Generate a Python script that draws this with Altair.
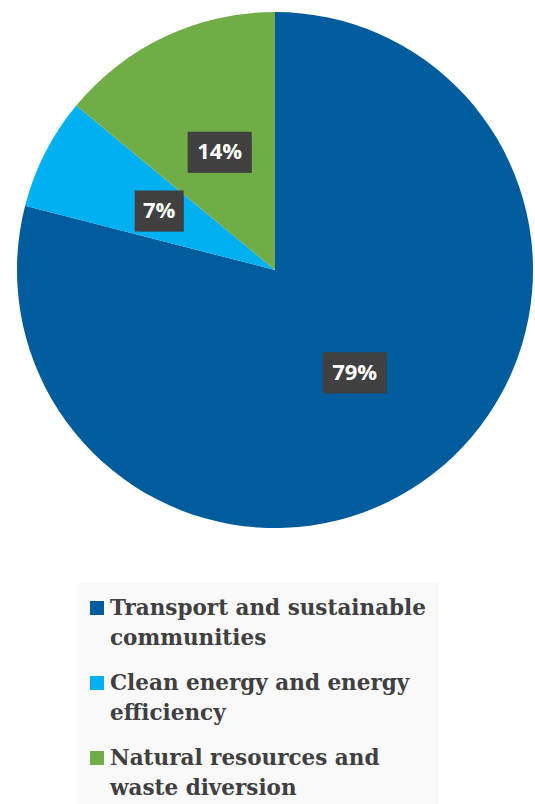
import altair as alt
import pandas as pd

categories = [
    "Transport and sustainable communities",
    "Clean energy and energy efficiency",
    "Natural resources and waste diversion",
]
legend_lines = [
    "Transport and sustainable\ncommunities",
    "Clean energy and energy\nefficiency",
    "Natural resources and\nwaste diversion",
]
shares = [79, 7, 14]
pct_labels = ["79%", "7%", "14%"]
colors = ["#005C9C", "#00B0F0", "#70AD47"]

df = pd.DataFrame({
    "idx": [0, 1, 2],
    "category": categories,
    "legend": legend_lines,
    "share": shares,
    "label": pct_labels,
})

CX, CY, R, LR = 275, 270, 258, 130

color = alt.Color("category:N", scale=alt.Scale(domain=categories, range=colors), legend=None)
base = alt.Chart(df)

pie = base.mark_arc(outerRadius=R).encode(
    theta=alt.Theta("share:Q", stack=True),
    color=color,
    order=alt.Order("idx:Q"),
    x=alt.value(CX),
    y=alt.value(CY),
)

lab = base.transform_window(
    cum="sum(share)", sort=[alt.SortField("idx")], frame=[None, 0]
).transform_joinaggregate(total="sum(share)").transform_calculate(
    ang="(datum.cum - datum.share/2)/datum.total*2*PI",
    cx=f"{CX} + {LR}*sin(datum.ang)",
    cy=f"{CY} - {LR}*cos(datum.ang)",
    hw="(19 + 15*length(datum.label))/2",
    x1="datum.cx - datum.hw",
    x2="datum.cx + datum.hw",
    y1="datum.cy - 20.5",
    y2="datum.cy + 20.5",
)

def box(**kw):
    return lab.mark_rect(**kw).encode(
        x=alt.X("x1:Q", scale=None, axis=None),
        x2="x2:Q",
        y=alt.Y("y1:Q", scale=None, axis=None),
        y2="y2:Q",
    )

shadows = [
    box(color="#000000", opacity=0.10, xOffset=7, yOffset=8),
    box(color="#000000", opacity=0.15, xOffset=5, yOffset=6),
    box(color="#000000", opacity=0.20, xOffset=3, yOffset=4),
]
boxes = box(color="#404040")
texts = lab.mark_text(
    color="white", font="Open Sans", fontWeight="bold", fontSize=22, baseline="middle", align="center"
).encode(
    x=alt.X("cx:Q", scale=None),
    y=alt.Y("cy:Q", scale=None),
    text="label:N",
)

legend_bg = alt.Chart(pd.DataFrame({"a": [0]})).mark_rect(color="#F9F9F9").encode(
    x=alt.value(77), x2=alt.value(438), y=alt.value(583), y2=alt.value(804)
)

leg = base.transform_calculate(
    sy="608 + 75*datum.idx",
    ty="615 + 75*datum.idx",
    sx="97",
    tx="110",
)
leg_sym = leg.mark_square(size=196, opacity=1).encode(
    x=alt.X("sx:Q", scale=None),
    y=alt.Y("sy:Q", scale=None),
    color=color,
)
leg_txt = leg.mark_text(
    align="left", baseline="alphabetic", lineBreak="\n", lineHeight=30,
    font="DejaVu Serif", fontWeight="bold", fontSize=21.5, color="#404040",
).encode(
    x=alt.X("tx:Q", scale=None),
    y=alt.Y("ty:Q", scale=None),
    text="legend:N",
)

chart = alt.layer(
    pie, *shadows, boxes, texts, legend_bg, leg_sym, leg_txt
).properties(
    width=535, height=804, autosize=alt.AutoSizeParams(type="none"), padding=0
).configure_view(stroke=None)

chart.save("out.html", embed_options={"renderer": "svg", "actions": False})
